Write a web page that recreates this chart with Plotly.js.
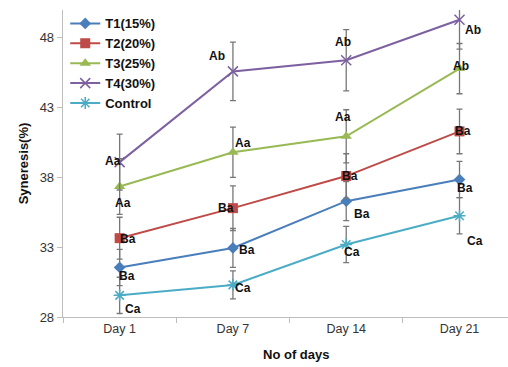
<!DOCTYPE html>
<html>
<head>
<meta charset="utf-8">
<script src="https://cdn.plot.ly/plotly-3.0.1.min.js"></script>
<style>html,body{margin:0;padding:0;background:#fff;}#chart{width:508px;height:367px;}</style>
</head>
<body>
<div id="chart"></div>
<script>
const days = ["Day 1", "Day 7", "Day 14", "Day 21"];
const seriesNames = ["T1(15%)", "T2(20%)", "T3(25%)", "T4(30%)", "Control"];
const t1 = [31.55, 32.95, 36.3, 37.85];
const t2 = [33.65, 35.8, 38.1, 41.3];
const t3 = [37.35, 39.8, 40.95, 45.8];
const t4 = [39.1, 45.6, 46.4, 49.3];
const control = [29.55, 30.3, 33.2, 35.25];
const t1Err = [1.3, 1.4, 1.4, 1.3];
const t2Err = [1.5, 1.6, 1.6, 1.6];
const t3Err = [2.0, 1.8, 1.9, 1.8];
const t4Err = [2.0, 2.1, 2.2, 2.1];
const controlErr = [1.3, 1.0, 1.3, 1.3];
const t1Labels = ["Ba", "Ba", "Ba", "Ba"];
const t2Labels = ["Ba", "Ba", "Ba", "Ba"];
const t3Labels = ["Aa", "Aa", "Aa", "Ab"];
const t4Labels = ["Aa", "Ab", "Ab", "Ab"];
const controlLabels = ["Ca", "Ca", "Ca", "Ca"];

const values = [t1, t2, t3, t4, control];
const errs = [t1Err, t2Err, t3Err, t4Err, controlErr];
const labels = [t1Labels, t2Labels, t3Labels, t4Labels, controlLabels];
const colors = ["#4a7ebb", "#be4b48", "#98b954", "#7d60a0", "#4bacc6"];
const symbols = ["diamond", "square", "triangle-up", "x-thin-open", "asterisk-open"];
const sizes = [9, 10, 10, 10, 10];

// label offsets [dx, dy] in pixels per series per day
const offsets = [
  [[7,-9],[14,-2],[16,-13],[5,-8]],
  [[8,-1],[-7,0],[4,0],[3,0]],
  [[3,-16],[10,9],[-3,19],[1,3]],
  [[-7,1],[-16,15],[-3,18],[13,-10]],
  [[13,-14],[10,-3],[6,-8],[15,-25]]
];

const traces = values.map((v, i) => ({
  type: "scatter",
  mode: "lines+markers",
  name: seriesNames[i],
  legendgroup: "g" + i,
  x: days,
  y: v,
  line: {color: colors[i], width: 2},
  marker: {symbol: symbols[i], size: sizes[i], color: colors[i], line: {color: colors[i], width: (i >= 3 ? 1.5 : 0)}},
  error_y: {type: "data", array: errs[i], visible: true, color: "#777777", thickness: 1.3, width: 3}
}));

const annotations = [];
values.forEach((v, i) => {
  v.forEach((val, j) => {
    annotations.push({
      x: days[j], y: val, xref: "x", yref: "y",
      text: labels[i][j], showarrow: false,
      xshift: offsets[i][j][0], yshift: offsets[i][j][1],
      font: {family: "Liberation Sans, Arial, sans-serif", size: 12, color: "#111", weight: "bold"}
    });
  });
});
annotations.push({
  xref: "paper", yref: "paper", x: (296 - 63) / 445, y: -0.122,
  xanchor: "center", yanchor: "middle", showarrow: false,
  text: "No of days",
  font: {family: "Liberation Sans, Arial, sans-serif", size: 13, color: "#111", weight: "bold"}
});

const layout = {
  width: 508, height: 367,
  margin: {l: 63, r: 0, t: 10, b: 49.5},
  paper_bgcolor: "#ffffff", plot_bgcolor: "#ffffff",
  showlegend: true,
  legend: {
    x: 0.005, y: 1.005, xanchor: "left", yanchor: "top",
    bgcolor: "rgba(0,0,0,0)",
    font: {family: "Liberation Sans, Arial, sans-serif", size: 13, color: "#111", weight: "bold"},
    itemwidth: 30, tracegroupgap: 1.2, traceorder: "normal"
  },
  xaxis: {
    type: "category",
    range: [-0.5, 3.428],
    showgrid: false, zeroline: false,
    showline: true, linecolor: "#bdbdbd", linewidth: 1.3,
    ticks: "outside", tickson: "boundaries", ticklen: 5, tickcolor: "#bdbdbd",
    tickfont: {family: "Liberation Sans, Arial, sans-serif", size: 12.5, color: "#333"}
  },
  yaxis: {
    range: [28, 50], tick0: 28, dtick: 5,
    showgrid: false, zeroline: false,
    showline: true, linecolor: "#bdbdbd", linewidth: 1.3,
    ticks: "outside", ticklen: 5, tickcolor: "#bdbdbd",
    tickfont: {family: "Liberation Sans, Arial, sans-serif", size: 13, color: "#333"},
    title: {text: "Syneresis(%)", standoff: 8,
      font: {family: "Liberation Sans, Arial, sans-serif", size: 13, color: "#111", weight: "bold"}}
  },
  annotations: annotations
};

Plotly.newPlot("chart", traces, layout, {displayModeBar: false, staticPlot: true});
</script>
</body>
</html>
